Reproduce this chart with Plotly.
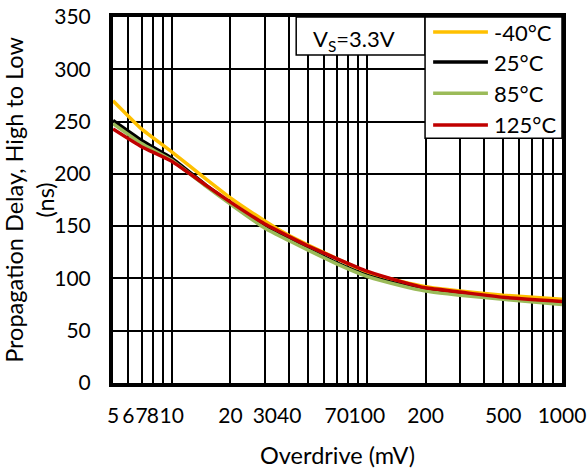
import plotly.graph_objects as go

# Overdrive (mV) sample points
overdrive_mv = [5, 7, 10, 15, 20, 30, 40, 50, 70, 100, 150, 200, 300, 500, 1000]

# Propagation delay, high to low (ns) per temperature
delay_m40 = [270, 243, 221, 195, 177, 155, 141, 132, 119, 106, 97, 92, 88, 84, 80]
delay_25 = [251, 232, 215, 189, 172, 149, 137, 128, 115, 103, 94, 89, 85, 81, 76]
delay_85 = [248, 229, 213, 188, 171, 148, 136, 127, 114, 102, 93, 88, 84, 80, 75]
delay_125 = [243, 226, 212, 189, 173, 152, 140, 131, 119, 107, 97, 91, 87, 82, 78]

series_names = ["-40°C", "25°C", "85°C", "125°C"]
series_colors = ["#FFC000", "#000000", "#9BBB59", "#C00000"]
series_values = [delay_m40, delay_25, delay_85, delay_125]

# Grid positions and tick labels on the log axis
x_grid = [5, 6, 7, 8, 9, 10, 20, 30, 40, 50, 60, 70, 80, 90, 100,
          200, 300, 400, 500, 600, 700, 800, 900, 1000]
x_labels = {5: "5", 6: "6", 7: "7", 8: "8", 10: "10", 20: "20", 30: "30",
            40: "40", 70: "70", 100: "100", 200: "200", 500: "500", 1000: "1000"}
y_ticks = [0, 50, 100, 150, 200, 250, 300, 350]

FONT = "Lato"
TICK_SIZE = 21
TITLE_SIZE = 23.5
LEGEND_SIZE = 22

fig = go.Figure()
for name, color, vals in zip(series_names, series_colors, series_values):
    fig.add_trace(go.Scatter(
        x=overdrive_mv, y=vals, mode="lines", name=name,
        line=dict(color=color, width=3.5, shape="spline", smoothing=0.4),
        showlegend=False,
    ))

fig.update_layout(
    width=587, height=472,
    margin=dict(l=113, r=25, t=17, b=89, autoexpand=False),
    paper_bgcolor="white", plot_bgcolor="white",
    font=dict(family=FONT, size=TICK_SIZE, color="black"),
)

fig.update_xaxes(
    type="log", range=[0.69897, 3],
    tickmode="array", tickvals=x_grid,
    ticktext=[x_labels.get(v, "") for v in x_grid],
    tickangle=0,
    showgrid=True, gridcolor="black", gridwidth=2,
    showline=True, linecolor="black", linewidth=4, mirror=True,
    ticks="", ticklabelstandoff=11,
    tickfont=dict(size=TICK_SIZE),
    title=dict(text="Overdrive (mV)", font=dict(size=TITLE_SIZE), standoff=22),
    zeroline=False,
)
fig.update_yaxes(
    range=[0, 350], tickmode="array", tickvals=y_ticks,
    showgrid=True, gridcolor="black", gridwidth=2,
    showline=True, linecolor="black", linewidth=4, mirror=True,
    ticks="", ticklabelstandoff=14,
    tickfont=dict(size=TICK_SIZE),
    title=dict(text="Propagation Delay, High to Low<br>(ns)", font=dict(size=TITLE_SIZE), standoff=0),
    zeroline=False,
)

# Supply voltage note box
fig.add_shape(type="rect", xref="paper", yref="paper",
              x0=0.408, x1=0.695, y0=0.896, y1=1.0,
              line=dict(color="black", width=1.5), fillcolor="white", layer="above")
fig.add_annotation(xref="paper", yref="paper", x=0.536, y=0.937,
                   text="V<sub>S</sub>=3.3V", showarrow=False,
                   font=dict(size=LEGEND_SIZE, family=FONT), xanchor="center", yanchor="middle")

# Legend box
fig.add_shape(type="rect", xref="paper", yref="paper",
              x0=0.695, x1=1.0, y0=0.669, y1=1.0,
              line=dict(color="black", width=1.5), fillcolor="white", layer="above")
legend_rows = [0.959, 0.877, 0.792, 0.705]
for name, color, yr in zip(series_names, series_colors, legend_rows):
    fig.add_shape(type="line", xref="paper", yref="paper",
                  x0=0.713, x1=0.835, y0=yr, y1=yr,
                  line=dict(color=color, width=3.5), layer="above")
    fig.add_annotation(xref="paper", yref="paper", x=0.843, y=yr,
                       text=name, showarrow=False, xanchor="left", yanchor="middle",
                       font=dict(size=LEGEND_SIZE, family=FONT))

fig.write_html("out.html")
